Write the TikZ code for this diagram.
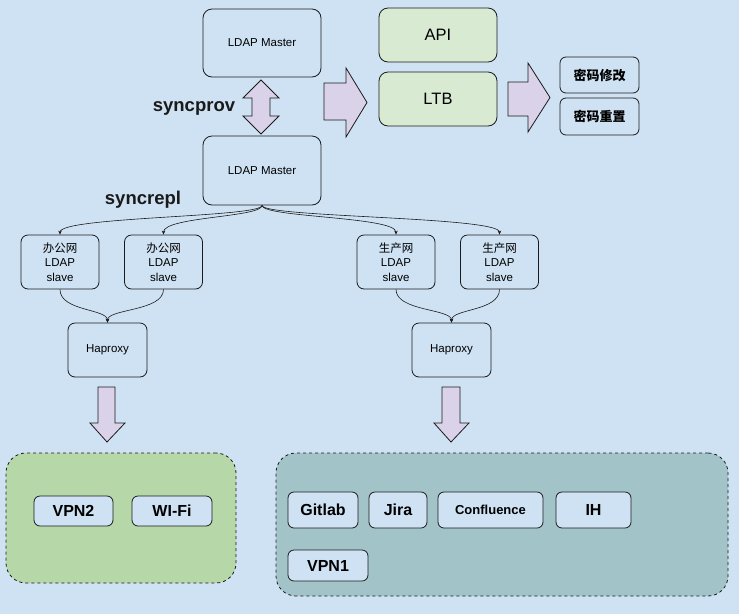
\documentclass[tikz,border=0pt]{standalone}
\usepackage{fontspec}
\setmainfont{Liberation Sans}
\newfontfamily\cjk{Noto Sans CJK SC}
\usetikzlibrary{arrows.meta}
\definecolor{bg}{HTML}{CFE2F3}
\definecolor{line}{HTML}{1A1A1A}
\definecolor{lilac}{HTML}{D9D2E9}
\definecolor{mint}{HTML}{D9EAD3}
\definecolor{office}{HTML}{B6D7A8}
\definecolor{prod}{HTML}{A2C4C9}
\tikzset{
  box/.style={draw=line, line width=0.8pt, rounded corners=9pt, fill=bg, align=center,
    inner sep=0pt, font=\fontsize{11.5}{14.5}\selectfont},
  apibox/.style={box, fill=mint, font=\fontsize{16.5}{18}\selectfont},
  tag/.style={draw=line, line width=0.8pt, rounded corners=6pt, fill=bg, inner sep=0pt,
    font=\fontsize{16}{18}\selectfont\bfseries},
  group/.style={draw=line, line width=0.8pt, dashed, rounded corners=20pt},
  fat/.style={draw=line, line width=0.8pt, fill=lilac, line join=miter},
  link/.style={draw=line, line width=0.6pt, -{Stealth[length=4pt,width=3.5pt]}},
  lab/.style={font=\fontsize{18.5}{20}\selectfont\bfseries, text=line},
}
\begin{document}
\begin{tikzpicture}[x=1pt, y=-1pt]
  \fill[bg] (0,0) rectangle (739,614);
  \useasboundingbox (0,0) rectangle (739,614);

  % masters
  \node[box, minimum width=118pt, minimum height=68pt] (m1) at (262,43) {LDAP Master};
  \node[box, minimum width=118pt, minimum height=69pt] (m2) at (262,170.5) {LDAP Master};
  \node[lab] (sprov) at (194,108) {syncprov};
  \node[lab] (srepl) at (143,200) {syncrepl};

  % self service
  \node[apibox, minimum width=118pt, minimum height=54pt] (api) at (438,35) {API};
  \node[apibox, minimum width=118pt, minimum height=54pt] (ltb) at (438,99) {LTB};
  \node[tag, minimum width=79pt, minimum height=36pt, font=\fontsize{13}{15}\selectfont\cjk\bfseries] (pwchg) at (599.5,75) {密码修改};
  \node[tag, minimum width=79pt, minimum height=37pt, font=\fontsize{13}{15}\selectfont\cjk\bfseries] (pwrst) at (599.5,116.5) {密码重置};

  % slaves
  \node[box, minimum width=78pt, minimum height=54pt, rounded corners=7pt] (s1) at (60,262) {{\cjk 办公网}\\LDAP\\slave};
  \node[box, minimum width=78pt, minimum height=54pt, rounded corners=7pt] (s2) at (163.5,262) {{\cjk 办公网}\\LDAP\\slave};
  \node[box, minimum width=78pt, minimum height=54pt, rounded corners=7pt] (s3) at (396,262) {{\cjk 生产网}\\LDAP\\slave};
  \node[box, minimum width=78pt, minimum height=54pt, rounded corners=7pt] (s4) at (499.5,262) {{\cjk 生产网}\\LDAP\\slave};

  \node[box, minimum width=79pt, minimum height=54pt, rounded corners=7pt] (hp1) at (107.5,350) {Haproxy};
  \node[box, minimum width=79pt, minimum height=54pt, rounded corners=7pt] (hp2) at (451.5,350) {Haproxy};

  % groups
  \node[group, fill=office, minimum width=230pt, minimum height=130pt] (goff) at (121,518) {};
  \node[group, fill=prod, minimum width=452pt, minimum height=143pt] (gprod) at (502,524.5) {};

  \node[tag, minimum width=79pt, minimum height=30pt] (vpn2) at (73.5,511) {VPN2};
  \node[tag, minimum width=80pt, minimum height=30pt] (wifi) at (172,511) {WI-Fi};
  \node[tag, minimum width=70pt, minimum height=36pt] (gitlab) at (323,510) {Gitlab};
  \node[tag, minimum width=58pt, minimum height=36pt] (jira) at (398,510) {Jira};
  \node[tag, minimum width=105pt, minimum height=36pt, font=\fontsize{13}{15}\selectfont\bfseries] (conf) at (490.5,510) {Confluence};
  \node[tag, minimum width=75pt, minimum height=36pt] (ih) at (593.5,510) {IH};
  \node[tag, minimum width=80pt, minimum height=31pt] (vpn1) at (328,565.5) {VPN1};

  % block arrows
  \draw[fat] (261,80) -- (279,98) -- (270,98) -- (270,116) -- (279,116) -- (261,134)
    -- (243,116) -- (252,116) -- (252,98) -- (243,98) -- cycle;
  \draw[fat] (324,83) -- (346,83) -- (346,68) -- (367,102.5) -- (346,137) -- (346,120) -- (324,120) -- cycle;
  \draw[fat] (508,82) -- (528,82) -- (528,63) -- (550,97.5) -- (528,132) -- (528,116) -- (508,116) -- cycle;
  \draw[fat] (98,387) -- (115,387) -- (115,423) -- (125,423) -- (107,442) -- (90,423) -- (98,423) -- cycle;
  \draw[fat] (442,387) -- (460,387) -- (460,423) -- (469,423) -- (451,442) -- (434,423) -- (442,423) -- cycle;

  % replication links
  \foreach \s in {s1,s2,s3,s4}
    \draw[link] (m2.south) .. controls +(0,12) and +(0,-18) .. (\s.north);
  \draw[link] (s1.south) .. controls +(0,22) and +(0,-14) .. (hp1.north);
  \draw[link] (s2.south) .. controls +(0,22) and +(0,-14) .. (hp1.north);
  \draw[link] (s3.south) .. controls +(0,22) and +(0,-14) .. (hp2.north);
  \draw[link] (s4.south) .. controls +(0,22) and +(0,-14) .. (hp2.north);
\end{tikzpicture}
\end{document}
